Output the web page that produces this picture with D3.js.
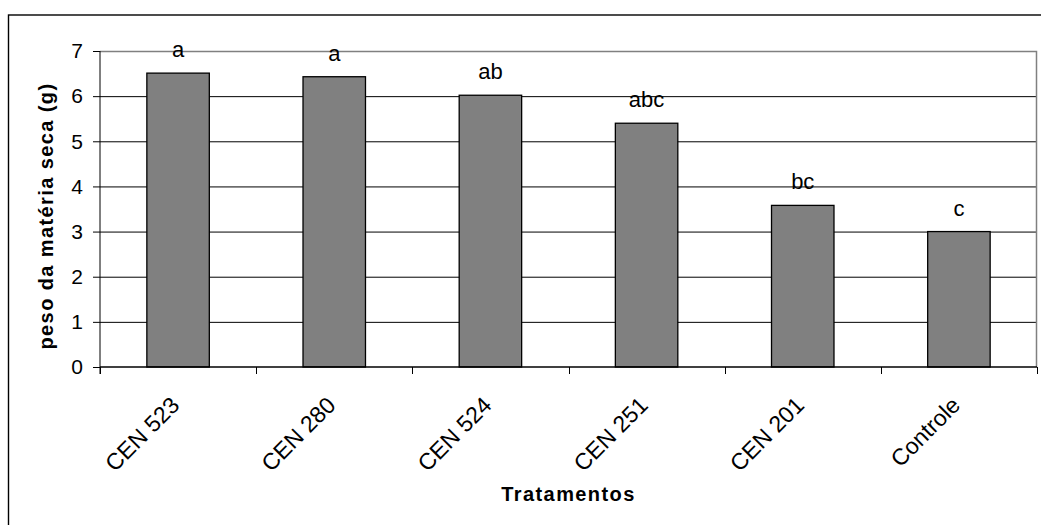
<!DOCTYPE html>
<html>
<head>
<meta charset="utf-8">
<script src="https://cdn.jsdelivr.net/npm/d3@7"></script>
<style>
  body { margin: 0; background: #fff; }
  svg { display: block; font-family: "Liberation Sans", Arial, sans-serif; }
  .axis path, .axis line { stroke: #000; }
</style>
</head>
<body>
<div id="chart"></div>
<script>
// dados do gráfico
const tratamentos = ["CEN 523", "CEN 280", "CEN 524", "CEN 251", "CEN 201", "Controle"];
const pesoSeco = [6.51, 6.43, 6.02, 5.40, 3.58, 3.00];
const letras = ["a", "a", "ab", "abc", "bc", "c"];
const yTicks = [0, 1, 2, 3, 4, 5, 6, 7];

const W = 1041, H = 525;
const margin = { top: 51, right: 4, bottom: 158, left: 100 },
      width = W - margin.left - margin.right,
      height = H - margin.top - margin.bottom;

const root = d3.select("#chart")
    .append("svg")
    .attr("width", W)
    .attr("height", H);

// moldura externa
root.append("rect")
    .attr("x", 8.5).attr("y", 15)
    .attr("width", 1040).attr("height", 530)
    .attr("fill", "none")
    .attr("stroke", "#000")
    .attr("stroke-width", 1.4);

const svg = root.append("g")
    .attr("transform", `translate(${margin.left},${margin.top})`);

const x = d3.scaleBand()
    .domain(tratamentos)
    .range([0, width])
    .paddingInner(0.6)
    .paddingOuter(0.3);

const y = d3.scaleLinear()
    .domain([0, 7])
    .range([height, 0]);

// linhas de grade
svg.append("g")
    .selectAll("line")
    .data(yTicks.filter(d => d > 0 && d < 7))
    .enter()
    .append("line")
    .attr("x1", 0).attr("x2", width)
    .attr("y1", d => y(d) + 0.5).attr("y2", d => y(d) + 0.5)
    .attr("stroke", "#000")
    .attr("stroke-width", 1);

// borda da área de plotagem (cinza)
svg.append("path")
    .attr("d", `M0,${y(7) + 0.5}H${width - 0.5}V${height}`)
    .attr("fill", "none")
    .attr("stroke", "#808080")
    .attr("stroke-width", 1.5);

// barras
svg.selectAll(".bar")
    .data(pesoSeco)
    .enter()
    .append("rect")
    .attr("class", "bar")
    .attr("x", (d, i) => x(tratamentos[i]))
    .attr("y", d => y(d))
    .attr("width", x.bandwidth())
    .attr("height", d => height - y(d))
    .attr("fill", "#808080")
    .attr("stroke", "#000")
    .attr("stroke-width", 1.3);

// letras de significância
svg.selectAll(".letra")
    .data(letras)
    .enter()
    .append("text")
    .attr("class", "letra")
    .attr("x", (d, i) => x(tratamentos[i]) + x.bandwidth() / 2)
    .attr("y", (d, i) => y(pesoSeco[i]) - 16)
    .attr("text-anchor", "middle")
    .style("font-size", "22px")
    .text(d => d);

// eixo Y
const yAxis = svg.append("g")
    .attr("class", "axis")
    .call(d3.axisLeft(y).tickValues(yTicks).tickSize(7).tickPadding(10).tickFormat(d3.format("d")));
yAxis.select(".domain").attr("d", `M0,${height + 7}V0`);
yAxis.selectAll("text").style("font-size", "21px").attr("fill", "#000");

// eixo X
svg.append("line")
    .attr("x1", 0).attr("x2", width)
    .attr("y1", height).attr("y2", height)
    .attr("stroke", "#000")
    .attr("stroke-width", 1.3);

svg.selectAll(".xtick")
    .data(d3.range(tratamentos.length + 1))
    .enter()
    .append("line")
    .attr("class", "xtick")
    .attr("x1", i => Math.round(x.step() * i) + 0.5)
    .attr("x2", i => Math.round(x.step() * i) + 0.5)
    .attr("y1", height)
    .attr("y2", height + 7)
    .attr("stroke", "#000");

svg.selectAll(".xlabel")
    .data(tratamentos)
    .enter()
    .append("text")
    .attr("class", "xlabel")
    .attr("transform", d => `translate(${x(d) + x.bandwidth() / 2 - 9},${height + 28}) rotate(-45)`)
    .attr("text-anchor", "end")
    .attr("dy", "0.72em")
    .style("font-size", "23px")
    .text(d => d);

// títulos dos eixos
svg.append("text")
    .attr("x", width / 2)
    .attr("y", height + 134)
    .attr("text-anchor", "middle")
    .style("font-size", "20px")
    .style("font-weight", "bold")
    .style("letter-spacing", "1.4px")
    .text("Tratamentos");

svg.append("text")
    .attr("transform", `translate(${53 - margin.left},${216 - margin.top}) rotate(-90)`)
    .attr("text-anchor", "middle")
    .style("font-size", "20px")
    .style("font-weight", "bold")
    .style("letter-spacing", "1.4px")
    .text("peso da matéria seca (g)");
</script>
</body>
</html>
